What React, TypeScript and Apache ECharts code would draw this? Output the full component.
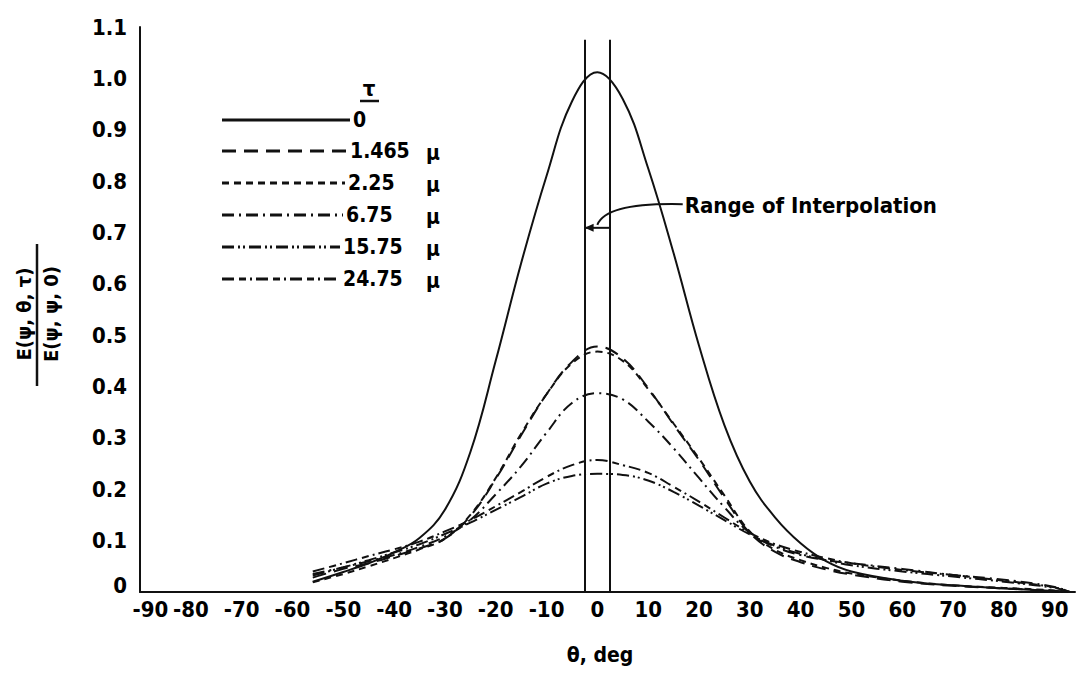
import React, { useEffect, useRef } from "react";
import * as echarts from "echarts";

// angle θ (deg) at which each curve is sampled
const thetaDeg = [-56, -50, -45, -40, -35, -30, -25, -20, -15, -10, -5, 0, 5, 10, 15, 20, 25, 30, 35, 40, 45, 50, 60, 70, 80, 90, 93];

// E(ψ,θ,τ)/E(ψ,ψ,0) for each τ
const ratioTau0 = [0.02, 0.039, 0.056, 0.077, 0.105, 0.16, 0.272, 0.45, 0.64, 0.81, 0.955, 1.012, 0.96, 0.825, 0.66, 0.48, 0.325, 0.215, 0.145, 0.095, 0.06, 0.04, 0.022, 0.013, 0.007, 0.002, 0];
const ratioTau1465 = [0.028, 0.045, 0.056, 0.07, 0.085, 0.104, 0.148, 0.22, 0.305, 0.385, 0.448, 0.478, 0.455, 0.397, 0.326, 0.257, 0.183, 0.115, 0.078, 0.058, 0.044, 0.034, 0.02, 0.012, 0.007, 0.002, 0];
const ratioTau225 = [0.019, 0.035, 0.05, 0.066, 0.083, 0.104, 0.15, 0.222, 0.308, 0.385, 0.445, 0.468, 0.45, 0.395, 0.328, 0.26, 0.188, 0.118, 0.082, 0.062, 0.047, 0.036, 0.022, 0.013, 0.008, 0.003, 0];
const ratioTau675 = [0.035, 0.048, 0.06, 0.072, 0.088, 0.108, 0.14, 0.19, 0.245, 0.31, 0.368, 0.387, 0.375, 0.332, 0.28, 0.222, 0.165, 0.115, 0.088, 0.072, 0.062, 0.056, 0.045, 0.033, 0.024, 0.01, 0];
const ratioTau1575 = [0.032, 0.048, 0.062, 0.077, 0.093, 0.113, 0.135, 0.16, 0.185, 0.211, 0.226, 0.23, 0.228, 0.217, 0.195, 0.168, 0.14, 0.112, 0.09, 0.074, 0.062, 0.052, 0.04, 0.03, 0.02, 0.008, 0];
const ratioTau2475 = [0.04, 0.056, 0.07, 0.083, 0.098, 0.118, 0.14, 0.167, 0.195, 0.224, 0.247, 0.257, 0.247, 0.232, 0.205, 0.176, 0.145, 0.115, 0.093, 0.078, 0.066, 0.056, 0.043, 0.033, 0.022, 0.009, 0];

const tauLabels = ["0", "1.465", "2.25", "6.75", "15.75", "24.75"];
const interpRange = [-2.5, 2.5];
const xTickValues = [-90, -80, -70, -60, -50, -40, -30, -20, -10, 0, 10, 20, 30, 40, 50, 60, 70, 80, 90];

const FONT = "'DejaVu Sans Condensed', 'Liberation Sans Narrow', sans-serif";
const INK = "#111";

const seriesDefs = [
  { name: "0", data: ratioTau0, dash: "solid" as any },
  { name: "1.465", data: ratioTau1465, dash: [14, 8] },
  { name: "2.25", data: ratioTau225, dash: [7, 5] },
  { name: "6.75", data: ratioTau675, dash: [12, 5, 2, 5] },
  { name: "15.75", data: ratioTau1575, dash: [12, 4, 2, 3, 2, 4] },
  { name: "24.75", data: ratioTau2475, dash: [12, 5, 7, 4, 2, 4] },
];

export default function App() {
  const ref = useRef<HTMLDivElement>(null);
  useEffect(() => {
    const chart = echarts.init(ref.current!, null, { renderer: "svg" });
    const series: any[] = seriesDefs.map((s, i) => ({
      type: "line",
      name: s.name,
      data: thetaDeg.map((t, k) => [t, s.data[k]]),
      showSymbol: false,
      smooth: 0.4,
      lineStyle: { color: INK, width: 2, type: s.dash },
      z: 3,
      markLine:
        i === 0
          ? {
              silent: true,
              symbol: ["none", "none"],
              label: { show: false },
              lineStyle: { color: INK, width: 2, type: "solid" },
              data: interpRange.map((v) => [{ coord: [v, 0] }, { coord: [v, 1.075] }]),
            }
          : undefined,
    }));
    chart.setOption({
      animation: false,
      backgroundColor: "#fff",
      grid: { left: 140, right: 3, top: 27, bottom: 89 },
      xAxis: {
        type: "value",
        min: -90,
        max: 94,
        interval: 10,
        axisLine: { show: true, lineStyle: { color: INK, width: 2 } },
        axisTick: { show: false },
        splitLine: { show: false },
        axisLabel: {
          customValues: xTickValues,
          showMinLabel: true,
          hideOverlap: false,
          formatter: (v: number) => (v === xTickValues[0] ? "   " + v : String(v)),
          color: "#000",
          fontFamily: FONT,
          fontWeight: "bold",
          fontSize: 22,
          margin: 6,
        },
      },
      yAxis: {
        type: "value",
        min: 0,
        max: 1.1,
        interval: 0.1,
        axisLine: { show: true, onZero: false, lineStyle: { color: INK, width: 2 } },
        axisTick: { show: false },
        splitLine: { show: false },
        axisLabel: {
          formatter: (v: number) => (v === 0 ? "" : v.toFixed(1)),
          color: "#000",
          fontFamily: FONT,
          fontWeight: "bold",
          fontSize: 22,
          margin: 13,
        },
      },
      series,
    });

    const p = (x: number, y: number) => chart.convertToPixel({ gridIndex: 0 }, [x, y]) as number[];
    const txt = (text: string, x: number, y: number, size: number, align = "left", extra: any = {}) => ({
      type: "text",
      x,
      y,
      ...extra,
      style: {
        text,
        fill: "#000",
        fontFamily: FONT,
        fontWeight: "bold",
        fontSize: size,
        align,
        verticalAlign: "middle",
      },
    });

    const g: any[] = [];
    // y-axis origin label, lifted clear of the first x label
    const [ox, oy] = p(-90, 0);
    g.push(txt("0", ox - 13, oy - 7, 22, "right"));

    // legend
    const legendY = [120, 151, 183, 215, 247, 279];
    const legendEnd = [350, 347, 345, 343, 340, 340];
    g.push(txt("τ", 369, 88, 22, "center"));
    g.push({ type: "line", shape: { x1: 360, y1: 101, x2: 379, y2: 101 }, style: { stroke: INK, lineWidth: 2.5 } });
    seriesDefs.forEach((s, i) => {
      g.push({
        type: "line",
        shape: { x1: 222, y1: legendY[i], x2: legendEnd[i], y2: legendY[i] },
        style: { stroke: INK, lineWidth: 3, lineDash: s.dash === "solid" ? null : s.dash },
      });
      g.push(txt(tauLabels[i], legendEnd[i] + 3, legendY[i], 21));
      if (i > 0) g.push(txt("μ", 433, legendY[i] + 2, 21, "center"));
    });

    // range-of-interpolation annotation
    const [lx] = p(interpRange[0], 0);
    const [rx, ay] = p(interpRange[1], 0.709);
    const [tx, ty] = p(17.2, 0.753);
    g.push(txt("Range of Interpolation", tx, ty, 22));
    g.push({
      type: "bezierCurve",
      shape: { x1: tx - 2, y1: ty - 1, cpx1: tx - 45, cpy1: ty - 2, cpx2: rx - 6, cpy2: ty + 3, x2: (lx + rx) / 2, y2: ay - 3 },
      style: { stroke: INK, lineWidth: 2, fill: null },
    });
    g.push({ type: "line", shape: { x1: lx, y1: ay, x2: rx, y2: ay }, style: { stroke: INK, lineWidth: 2 } });
    g.push({ type: "polygon", shape: { points: [[lx, ay], [lx + 9, ay - 4], [lx + 9, ay + 4]] }, style: { fill: INK } });

    // axis names
    g.push(txt("θ, deg", 600, 655, 21, "center"));
    g.push(txt("E(ψ, θ, τ)", 24, 314, 20, "center", { rotation: Math.PI / 2 }));
    g.push(txt("E(ψ, ψ, 0)", 51, 314, 20, "center", { rotation: Math.PI / 2 }));
    g.push({ type: "line", shape: { x1: 37, y1: 244, x2: 37, y2: 386 }, style: { stroke: INK, lineWidth: 2.5 } });

    chart.setOption({ graphic: g });
    return () => chart.dispose();
  }, []);
  return <div ref={ref} style={{ position: "absolute", left: 0, top: 0, width: 1078, height: 681 }} />;
}
